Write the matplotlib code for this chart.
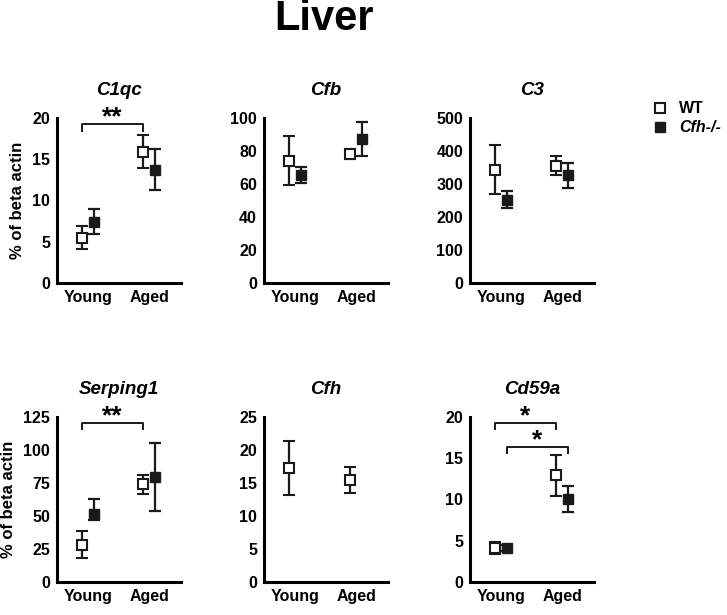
import matplotlib.pyplot as plt
from matplotlib.lines import Line2D

plt.rcParams['font.family'] = ['Liberation Sans', 'DejaVu Sans']
plt.rcParams['font.weight'] = 'bold'

# groups on the x axis
groups = ['Young', 'Aged']

# values: mean and error (% of beta actin)
c1qc_wt = [5.5, 15.9]
c1qc_wt_err = [1.4, 2.0]
c1qc_ko = [7.4, 13.7]
c1qc_ko_err = [1.5, 2.45]

cfb_wt = [73.8, 78.2]
cfb_wt_err = [14.8, 3.0]
cfb_ko = [65.3, 86.9]
cfb_ko_err = [5.0, 10.2]

c3_wt = [343, 355]
c3_wt_err = [75, 28]
c3_ko = [252, 325]
c3_ko_err = [26, 38]

serping1_wt = [28.3, 73.7]
serping1_wt_err = [10.3, 7.0]
serping1_ko = [51.3, 79.0]
serping1_ko_err = [[4.3, 25.7], [11.1, 25.7]]  # lower, upper

cfh_wt = [17.2, 15.4]
cfh_wt_err = [4.1, 1.9]

cd59a_wt = [4.1, 12.9]
cd59a_wt_err = [0.7, 2.5]
cd59a_ko = [4.1, 10.0]
cd59a_ko_err = [0.35, 1.6]

ylims = {'C1qc': (20, 5), 'Cfb': (100, 20), 'C3': (500, 100),
         'Serping1': (125, 25), 'Cfh': (25, 5), 'Cd59a': (20, 5)}

panels = [
    ('C1qc', c1qc_wt, c1qc_wt_err, c1qc_ko, c1qc_ko_err),
    ('Cfb', cfb_wt, cfb_wt_err, cfb_ko, cfb_ko_err),
    ('C3', c3_wt, c3_wt_err, c3_ko, c3_ko_err),
    ('Serping1', serping1_wt, serping1_wt_err, serping1_ko, serping1_ko_err),
    ('Cfh', cfh_wt, cfh_wt_err, None, None),
    ('Cd59a', cd59a_wt, cd59a_wt_err, cd59a_ko, cd59a_ko_err),
]

# significance brackets: (x1, x2, y, drop, label)
brackets = {
    'C1qc': [(0.9, 1.9, 19.2, 0.8, '**')],
    'Serping1': [(0.9, 1.9, 120, 4.5, '**')],
    'Cd59a': [(0.9, 1.9, 19.2, 0.7, '*'), (1.1, 2.1, 16.3, 0.7, '*')],
}

fig = plt.figure(figsize=(7.27, 6.15), dpi=100)

lefts = [0.0784, 0.3631, 0.6465]
bottoms = [0.5398, 0.0537]
w, h = 0.1706, 0.269

x = [1, 2]
off = 0.1
for i, (name, wt, wt_err, ko, ko_err) in enumerate(panels):
    ax = fig.add_axes([lefts[i % 3], bottoms[i // 3], w, h])
    ax.errorbar([v - off for v in x], wt, yerr=wt_err, fmt='s', ms=6.5,
                mfc='white', mec='#1a1a1a', mew=1.5, ecolor='#1a1a1a',
                elinewidth=1.6, capsize=4, capthick=1.6, zorder=3)
    if ko is not None:
        ax.errorbar([v + off for v in x], ko, yerr=ko_err, fmt='s', ms=6.5,
                    mfc='#1a1a1a', mec='#1a1a1a', ecolor='#1a1a1a',
                    elinewidth=1.6, capsize=4, capthick=1.6, zorder=3)
    top, step = ylims[name]
    ax.set_ylim(0, top)
    ax.set_yticks(range(0, top + 1, step))
    ax.set_xlim(0.5, 2.52)
    ax.set_xticks(x)
    ax.set_xticklabels(groups)
    ax.tick_params(length=0, labelsize=11.5, pad=5)
    for lab in ax.get_xticklabels() + ax.get_yticklabels():
        lab.set_fontweight('bold')
    ax.spines['top'].set_visible(False)
    ax.spines['right'].set_visible(False)
    ax.spines['left'].set_linewidth(2.2)
    ax.spines['bottom'].set_linewidth(2.2)
    ax.set_title(name, fontsize=13.5, fontweight='bold', style='italic', pad=16)
    if i % 3 == 0:
        ax.set_ylabel('% of beta actin', fontsize=12, fontweight='bold', labelpad=5)

    for x1, x2, y, d, lab in brackets.get(name, []):
        ax.plot([x1, x1, x2, x2], [y - d, y, y, y - d], color='#1a1a1a',
                lw=1.4, clip_on=False)
        ax.annotate(lab, ((x1 + x2) / 2, y), xytext=(0, -4),
                    textcoords='offset points', ha='center', va='bottom',
                    fontsize=19, fontweight='bold', annotation_clip=False)

fig.text(0.445, 0.952, 'Liver', ha='center', va='baseline', fontsize=30,
         fontweight='bold')

# legend
wt_h = Line2D([], [], ls='none', marker='s', ms=6.5, mfc='white', mec='#1a1a1a', mew=1.5)
ko_h = Line2D([], [], ls='none', marker='s', ms=6.5, mfc='#1a1a1a', mec='#1a1a1a')
leg = fig.legend([wt_h, ko_h], ['WT', 'Cfh-/-'], loc='upper left',
                 bbox_to_anchor=(0.89, 0.846), frameon=False, fontsize=11.5,
                 handlelength=0.8, handletextpad=0.8, labelspacing=0.25,
                 borderaxespad=0)
for t in leg.get_texts():
    t.set_fontweight('bold')
leg.get_texts()[1].set_style('italic')

fig.savefig('out.png', dpi=100)
